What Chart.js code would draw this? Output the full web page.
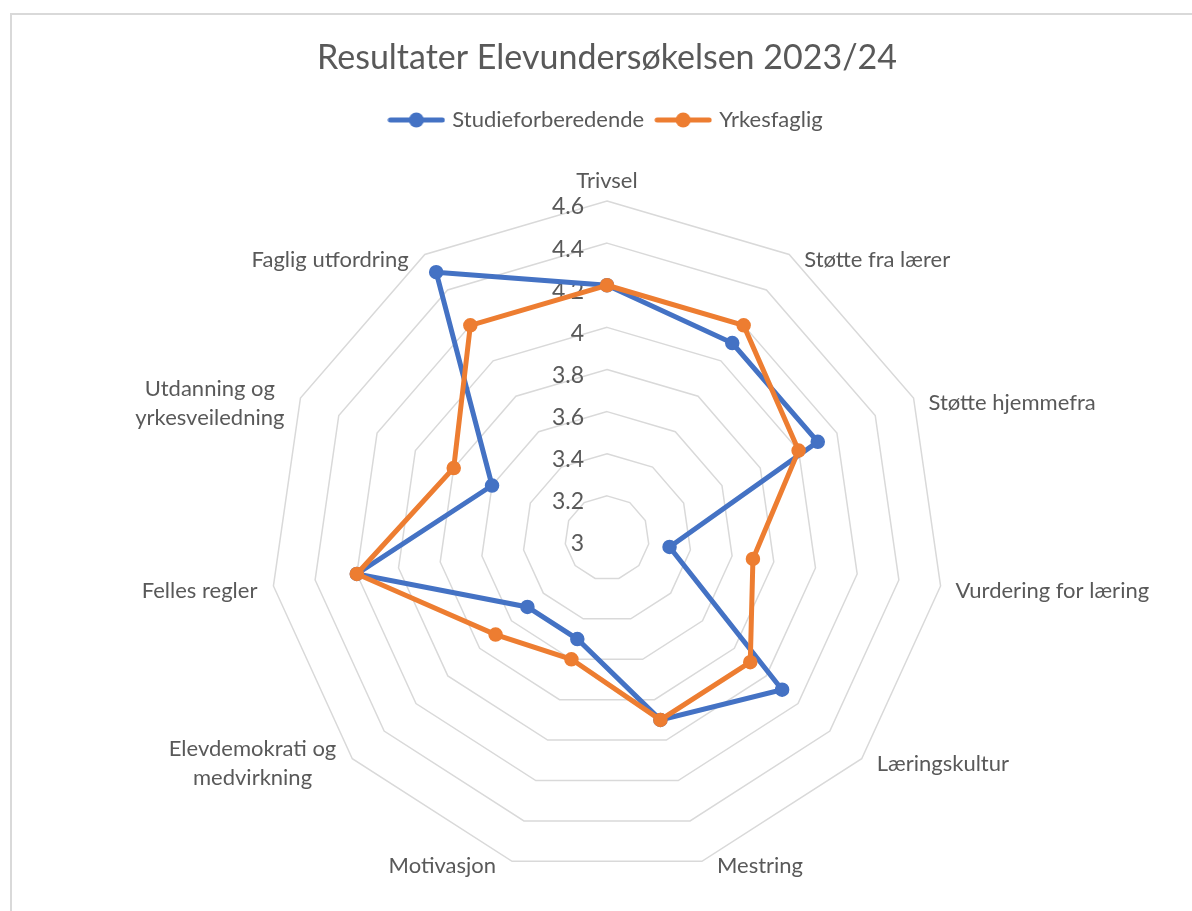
<!DOCTYPE html>
<html>
<head>
  <meta charset="utf-8">
  <title>Resultater Elevundersøkelsen 2023/24</title>
  <script src="https://cdn.jsdelivr.net/npm/chart.js"></script>
  <style>
    body { margin: 0; background: #fff; }
    #wrap { position: relative; width: 1192px; height: 911px; overflow: hidden; }
    #frame { position: absolute; left: 10px; top: 13px; width: 1200px; height: 1000px;
             border: 2px solid #d9d9d9; box-sizing: border-box; pointer-events: none; }
    canvas { position: absolute; left: 0; top: 0; }
  </style>
</head>
<body>
  <div id="wrap">
    <canvas id="radarChart" width="1192" height="945"></canvas>
    <div id="frame"></div>
  </div>

  <script>
    const categories = ['Trivsel', 'Støtte fra lærer', 'Støtte hjemmefra', 'Vurdering for læring',
      'Læringskultur', 'Mestring', 'Motivasjon', ['Elevdemokrati og', 'medvirkning'],
      'Felles regler', ['Utdanning og', 'yrkesveiledning'], 'Faglig utfordring'];
    const studieforberedende = [4.2, 4.1, 4.1, 3.3, 4.1, 3.9, 3.5, 3.5, 4.2, 3.6, 4.5];
    const yrkesfaglig = [4.2, 4.2, 4.0, 3.7, 3.9, 3.9, 3.6, 3.7, 4.2, 3.8, 4.2];
    const tickLabels = ['3', '3.2', '3.4', '3.6', '3.8', '4', '4.2', '4.4', '4.6'];

    const textColor = '#595959';

    // line with a dot, like the excel legend key
    function legendIcon(color) {
      const c = document.createElement('canvas');
      c.width = 58; c.height = 18;
      const g = c.getContext('2d');
      g.strokeStyle = color; g.lineWidth = 5; g.lineCap = 'round';
      g.beginPath(); g.moveTo(3, 9); g.lineTo(55, 9); g.stroke();
      g.fillStyle = color;
      g.beginPath(); g.arc(29, 9, 7.5, 0, Math.PI * 2); g.fill();
      return c;
    }

    // tick labels left of the top axis, category labels outside the web
    const radarText = {
      id: 'radarText',
      beforeDatasetsDraw(chart) {
        const s = chart.scales.r, ctx = chart.ctx;
        ctx.save();
        ctx.font = '23px Lato';
        ctx.fillStyle = textColor;
        ctx.textAlign = 'right';
        ctx.textBaseline = 'middle';
        tickLabels.forEach(t => {
          const d = s.getDistanceFromCenterForValue(parseFloat(t));
          ctx.fillText(t, s.xCenter - 23, s.yCenter - d + 6);
        });
        ctx.restore();
      },
      afterDraw(chart) {
        const s = chart.scales.r, ctx = chart.ctx;
        ctx.save();
        ctx.font = '22px Lato';
        ctx.fillStyle = textColor;
        ctx.textAlign = 'center';
        ctx.textBaseline = 'middle';
        const lh = 29;
        categories.forEach((cat, i) => {
          const lines = [].concat(cat);
          const p = s.getPointPosition(i, s.drawingArea);
          const deg = s.getIndexAngle(i) * 180 / Math.PI;
          const w = Math.max(...lines.map(l => ctx.measureText(l).width));
          let cx, cy;
          if (deg < 1 || deg > 359) { cx = p.x; cy = p.y - 20; }
          else if (deg < 180) { cx = p.x + 15 + w / 2; cy = p.y + 5; }
          else { cx = p.x - 16 - w / 2; cy = p.y + 5; }
          lines.forEach((l, k) => ctx.fillText(l, cx, cy + (k - (lines.length - 1) / 2) * lh));
        });
        ctx.restore();
      }
    };

    function draw() {
      Chart.defaults.font.family = 'Lato';
      Chart.defaults.color = textColor;

      new Chart(document.getElementById('radarChart'), {
        type: 'radar',
        data: {
          labels: categories,
          datasets: [
            {
              label: 'Studieforberedende',
              data: studieforberedende,
              borderColor: '#4472C4',
              backgroundColor: '#4472C4',
              pointBackgroundColor: '#4472C4',
              borderWidth: 5,
              pointRadius: 6.5,
              pointBorderWidth: 1.5,
              fill: false,
              order: 2
            },
            {
              label: 'Yrkesfaglig',
              data: yrkesfaglig,
              borderColor: '#ED7D31',
              backgroundColor: '#ED7D31',
              pointBackgroundColor: '#ED7D31',
              borderWidth: 5,
              pointRadius: 6.5,
              pointBorderWidth: 1.5,
              fill: false,
              order: 1
            }
          ]
        },
        options: {
          responsive: false,
          animation: false,
          layout: { padding: { top: 20, left: 270, right: 248, bottom: 10 } },
          plugins: {
            title: {
              display: true,
              text: 'Resultater Elevundersøkelsen 2023/24',
              color: textColor,
              font: { size: 34, weight: 'normal' },
              padding: { top: 17.6, bottom: 16.6 }
            },
            legend: {
              labels: {
                usePointStyle: true,
                pointStyleWidth: 50,
                padding: 14,
                color: textColor,
                font: { size: 22 },
                generateLabels: chart => chart.data.datasets.map((ds, i) => ({
                  text: ds.label,
                  pointStyle: legendIcon(ds.borderColor),
                  fillStyle: ds.borderColor,
                  strokeStyle: ds.borderColor,
                  lineWidth: 0,
                  hidden: !chart.isDatasetVisible(i),
                  datasetIndex: i,
                  fontColor: textColor
                }))
              }
            },
            tooltip: { enabled: false }
          },
          scales: {
            r: {
              min: 3,
              max: 4.6,
              ticks: { display: false, stepSize: 0.2 },
              grid: { circular: false, color: '#d9d9d9', lineWidth: 1.5 },
              angleLines: { display: false },
              pointLabels: { display: false }
            }
          }
        },
        plugins: [radarText]
      });
    }

    if (document.fonts && document.fonts.load) {
      document.fonts.load('22px Lato').then(draw, draw);
    } else {
      draw();
    }
  </script>
</body>
</html>
